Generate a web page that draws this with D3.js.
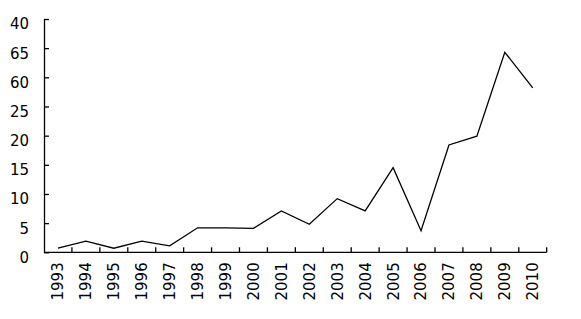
<!DOCTYPE html>
<html><head><meta charset="utf-8">
<script src="https://cdn.jsdelivr.net/npm/d3@7"></script>
<style>body{margin:0;background:#fff}svg{display:block}</style>
</head><body>
<svg id="c" width="581" height="319"></svg>
<script>
const years = ["1993","1994","1995","1996","1997","1998","1999","2000","2001","2002","2003","2004","2005","2006","2007","2008","2009","2010"];
const values = [0.7,1.9,0.7,1.9,1.1,4.2,4.2,4.1,7.1,4.8,9.2,7.1,14.5,3.7,18.4,19.9,34.3,28.2];
const yTickValues = [0,5,10,15,20,25,30,35,40];
const yTickLabels = ["0","5","10","15","20","25","60","65","40"];

(function(){
const svg = d3.select("#c");
const mLeft = 44, mRight = 546.7, mTop = 19, mBottom = 252.3;
const font = "DejaVu Sans";

const x = d3.scaleBand().domain(years).range([mLeft, mRight]).padding(0);
const y = d3.scaleLinear().domain([0, 40]).range([mBottom, mTop]);

// y axis
const yAxis = d3.axisLeft(y).tickValues(yTickValues)
  .tickFormat((d,i) => yTickLabels[i]).tickSizeInner(-5).tickSizeOuter(0).tickPadding(15);
const gy = svg.append("g").attr("transform", `translate(${mLeft},0)`).call(yAxis);
gy.selectAll("path,line").attr("stroke","#000").attr("stroke-width",1.3);
gy.selectAll("text").attr("font-family",font).attr("font-size","15px").attr("fill","#000")
  .attr("dy","0.36em").attr("y",4.5);

// x axis
const gx = svg.append("g").attr("transform", `translate(0,${mBottom})`);
gx.append("line").attr("x1", mLeft).attr("x2", mRight).attr("stroke","#000").attr("stroke-width",1.3);
const edges = years.map(d => x(d) + x.bandwidth());
gx.selectAll("line.tk").data(edges).join("line").attr("class","tk")
  .attr("x1", d => d).attr("x2", d => d).attr("y1", 0).attr("y2", -5)
  .attr("stroke","#000").attr("stroke-width",1.3);
gx.selectAll("text").data(years).join("text")
  .attr("transform", d => `translate(${x(d) + x.bandwidth()/2},10) rotate(-90)`)
  .attr("text-anchor","end").attr("dy","0.36em")
  .attr("font-family",font).attr("font-size","15px").attr("fill","#000")
  .text(d => d);

// line
const line = d3.line().x((d,i) => x(years[i]) + x.bandwidth()/2).y(d => y(d));
svg.append("path").datum(values).attr("d", line)
  .attr("fill","none").attr("stroke","#000").attr("stroke-width",1.3).attr("stroke-linejoin","miter");
})();
</script>
</body></html>
